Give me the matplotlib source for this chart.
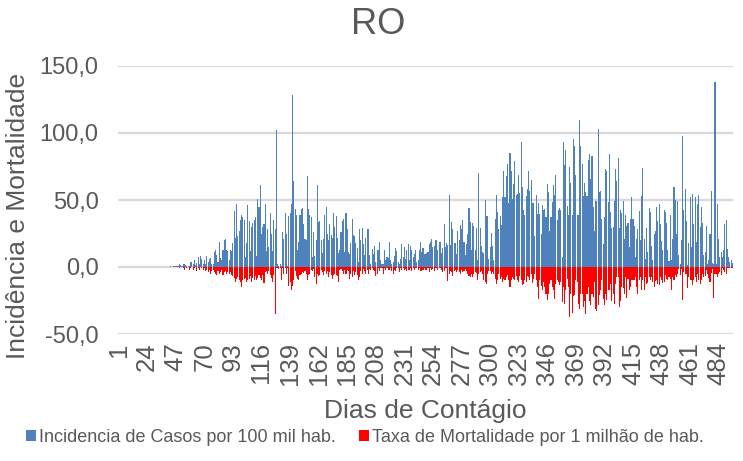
import matplotlib
matplotlib.use("Agg")
import matplotlib.pyplot as plt
from matplotlib.ticker import FuncFormatter
from matplotlib.patches import Patch
import numpy as np

plt.rcParams['font.family'] = ['Liberation Sans', 'DejaVu Sans']

# Incidência de casos por 100 mil hab. (dias 1..495)
incidencia = [
    0, 0, 0, 0, 0, 0, 0, 0, 0, 0,
    0, 0, 0, 0, 0, 0, 0, 0, 0, 0,
    0, 0, 0, 0, 0, 0, 0, 0, 0, 0,
    0, 0, 0, 0, 0, 0, 0, 0.3, 0, 0.2,
    0.3, 0.2, 0.4, 0.3, 0.5, 0.4, 0.8, 0.6, 1.0, 2.2,
    1.2, 0.8, 2.5, 2, 1.5, 1, 0.5, 1, 3.5, 4,
    2, 5, 1.5, 3, 7.5, 2, 8, 6, 2, 5,
    2, 8, 3.5, 6, 7, 2, 2, 11, 13, 8.7,
    4, 18.7, 6.5, 5.5, 12.4, 20, 21, 13, 12, 5,
    12.4, 12, 18, 42, 22, 47, 23, 27, 35, 38.5,
    37, 35, 7.5, 18, 46, 34, 12, 30, 33, 35,
    37, 8, 51, 45, 61, 25, 30, 32, 47, 12,
    28.6, 15, 40, 25, 12, 35, 28.6, 102, 2.5, 1,
    2.5, 1, 26, 21, 40.5, 25, 1, 38, 40, 47,
    128, 64, 43.5, 38.5, 12.4, 18.7, 38.5, 43, 44, 32,
    21, 20, 67.7, 43, 39, 37, 7.5, 26, 8, 20,
    61, 33.6, 34, 20, 10.5, 21, 38.5, 45, 25, 20,
    32, 24, 22, 40, 30, 38, 22, 10.5, 13, 26,
    34, 36, 11, 40.5, 28, 11, 10, 18, 36, 23.6,
    23, 18, 14, 4, 28, 20, 29, 17.4, 9, 22,
    28, 28.6, 9, 2.5, 13.7, 10, 15.4, 4, 13, 12.4,
    19, 5.5, 2, 2.5, 12.4, 5, 7.5, 6.7, 18.4, 5,
    2, 3.7, 8, 14.4, 11.7, 3.7, 2, 6, 17, 7.5,
    15, 6, 12.4, 17, 5, 15.4, 12.4, 7.5, 9.5, 12.4,
    3.7, 5, 13, 18.4, 11, 14.4, 9.5, 9.5, 10.5, 11,
    17, 19, 21, 15, 15.4, 20, 20, 12.4, 19, 18.4,
    10.7, 14.4, 32, 15, 18, 16.2, 54, 16.2, 33.6, 28.6,
    18, 18, 10, 27, 20, 31, 28, 35, 18.7, 8.7,
    17.4, 24.4, 44, 33.6, 13, 33, 30.6, 12.4, 29, 5,
    70, 29, 15.4, 11, 10.5, 50, 38, 38, 6, 15,
    25.6, 16, 5, 36, 53.5, 41, 28.6, 38, 31, 52,
    71.4, 52, 67.7, 76.6, 47.8, 85, 72, 51, 61.7, 79,
    54, 54.7, 69, 55, 93, 60, 42.8, 39, 53, 58,
    72, 57, 64.7, 47.8, 47.5, 23, 54, 39.8, 47.5, 39.8,
    25, 46.5, 42.3, 43, 37.3, 62, 56, 27, 37.3, 48.5,
    61, 53.7, 69, 35, 42.8, 44.3, 42.3, 7.5, 93, 76,
    87, 45.5, 39, 74.6, 63, 39, 95.8, 90, 68.4, 38.5,
    38.5, 109.5, 90, 76.6, 53, 63, 56, 53, 80, 84.6,
    66, 83, 45, 27, 49.3, 49.3, 103, 56, 57, 36,
    17.4, 37.3, 73.4, 72, 48.5, 84, 40.8, 29, 30, 49.3,
    73.4, 64, 81, 29, 42.3, 40.3, 49.3, 20.6, 38.5, 30.8,
    32.6, 15, 36, 52, 36, 30.6, 7.5, 20.6, 28.6, 41.8,
    20, 52.7, 74, 20.6, 6.2, 29, 11, 44, 41, 16,
    5, 25, 26.6, 44.8, 34, 47.3, 32, 19.4, 13, 42.3,
    41, 32.6, 12.4, 4.2, 38.5, 5, 20.6, 60, 49.8, 25,
    49, 9, 2.5, 20, 98, 42.3, 58, 34, 1.2, 17.7,
    52, 15, 54.7, 32, 52.2, 18.7, 46.8, 54, 30, 45,
    32.6, 8.7, 11, 30.3, 2, 5, 25, 56.5, 3, 2.5,
    138, 2, 47.3, 20.6, 7.5, 11, 7.5, 12.4, 32, 35,
    13.4, 7.5, 4, 5.5, 3,
]

# Taxa de mortalidade por 1 milhão de hab. (dias 1..495), plotted downward
mortalidade = [
    0, 0, 0, 0, 0, 0, 0, 0, 0, 0,
    0, 0, 0, 0, 0, 0, 0, 0, 0, 0,
    0, 0, 0, 0, 0, 0, 0, 0, 0, 0,
    0, 0, 0, 0, 0, 0, 0, 0, 0, 0,
    0, 0, 0, 0, 0, 0, 0, 0, 0, 0.5,
    0, 0, 1, 2, 0, 1, 0, 2, 1, 0,
    2, 1, 0, 3, 1, 2, 0, 1, 2, 1,
    3, 2, 4, 2, 5, 3, 2, 4, 5, 6,
    3, 5, 4, 2, 6, 4, 3, 5, 4, 5,
    4, 6, 7, 8, 11, 9, 7.5, 10, 11, 15,
    10, 9, 8, 11, 10, 9, 7, 11, 8, 9.5,
    7, 10, 8, 6, 8, 10, 6, 12, 4, 3,
    5, 3, 6, 8, 11, 6, 35, 1, 1, 1.5,
    0.5, 10, 1, 5, 1, 5, 0.5, 14, 11, 17.4,
    14, 10, 3, 7, 9, 10, 6, 5, 3.5, 4.5,
    3, 5, 10, 6, 5, 2, 3, 1.5, 7.5, 12.4,
    5, 7, 6, 2, 4, 6, 3, 5, 3, 7.5,
    4, 6, 9, 6, 5, 6, 7, 11, 2, 1.5,
    3, 5, 2.5, 5, 2, 3, 8.7, 5, 7.5, 3,
    6, 3.7, 6, 10, 7.5, 3, 5, 1.5, 3, 5,
    2, 5, 1.5, 2, 1, 2.5, 3, 7, 5, 0.5,
    3, 1, 0.5, 5, 1, 2, 0.5, 2, 2, 1,
    3, 5, 2, 3, 1, 0.5, 3.7, 1, 2, 0.5,
    2.5, 1.5, 3, 2, 2.5, 1, 3, 0.5, 2, 1,
    0.5, 2.5, 1, 3, 3, 2, 0.5, 2, 2.5, 1,
    3.5, 1, 2.5, 1.5, 3, 1, 0.5, 2, 1, 0.5,
    2.5, 4, 3, 1, 0.5, 10.5, 5, 3, 4, 6.7,
    3, 2.5, 3.5, 2, 4, 5, 2.5, 4, 3, 1.5,
    3, 5, 6.5, 7.5, 5, 7.5, 5, 3.7, 4.5, 10,
    5, 4, 3, 5, 10, 11, 12.4, 5, 3, 3,
    5.5, 4, 5, 9, 13, 10, 5, 8.7, 7.5, 11,
    8.7, 10, 7.5, 6, 10, 15, 10, 7.5, 8.7, 9.5,
    7, 10, 11, 7, 10, 13.7, 13, 10, 11, 7,
    7.5, 10, 5, 12, 8.7, 5, 10, 15, 23.6, 10,
    14, 17.4, 11, 15, 20, 24.4, 20, 13, 10, 15,
    17.4, 23.6, 13, 10, 11, 13.7, 11, 26, 15, 27.4,
    17.4, 8.7, 15, 37.3, 20, 34.3, 22, 21, 10, 11,
    27.4, 31, 20, 20, 30, 25, 34.8, 20, 15, 25,
    28, 20, 22.4, 11, 31, 33, 28.6, 21, 17.4, 10,
    23.6, 28.6, 20, 24.4, 17.4, 17, 12.4, 25, 20, 27.4,
    13, 7.5, 7.5, 30, 25, 15, 16, 20, 7.5, 23,
    8.7, 17.4, 15, 10, 10, 10, 7.5, 15, 20, 10,
    7.5, 17, 10, 17, 7.5, 13, 12, 7.5, 10, 7.5,
    11, 15, 10.5, 10, 13, 13.7, 7.5, 10, 12, 11,
    6, 9, 10, 7.5, 9, 17.4, 7.5, 10, 6, 7.5,
    5, 1.2, 6, 1.2, 24.4, 4, 5, 5, 16, 7.5,
    9.5, 10, 13.7, 9.5, 7.5, 11, 5, 10, 13, 10,
    5, 7.5, 7, 2.5, 5, 8.5, 11.5, 4.5, 1.5, 23,
    5, 5, 7.5, 5, 4, 6, 1, 2.5, 3.7, 5,
    1, 1, 0.5, 0.5, 0.5,
]

tick_labels = ["1", "24", "47", "70", "93", "116", "139", "162", "185", "208",
               "231", "254", "277", "300", "323", "346", "369", "392", "415",
               "438", "461", "484"]
y_ticks = [-50, 0, 50, 100, 150]

serie_azul = "Incidencia de Casos por 100 mil hab."
serie_verm = "Taxa de Mortalidade por 1 milhão de hab."
titulo = "RO"

TXT = "#595959"
BLUE = "#4F81BD"
RED = "#FF0000"
GRID = "#D9D9D9"

W, H = 743, 461
fig = plt.figure(figsize=(W / 100, H / 100), dpi=100)
ax = fig.add_axes([118 / W, 1 - 334 / H, (733 - 118) / W, (334 - 66) / H])

days = np.arange(1, len(incidencia) + 1)
ax.bar(days, incidencia, width=0.85, color=BLUE, linewidth=0, zorder=2)
ax.bar(days, -np.array(mortalidade), width=0.85, color=RED, linewidth=0, zorder=2)

ax.set_xlim(0.5, len(days) + 0.5)
ax.set_ylim(y_ticks[0], y_ticks[-1])
ax.set_yticks(y_ticks)
ax.yaxis.set_major_formatter(FuncFormatter(lambda v, p: f"{v:.1f}".replace(".", ",")))
ax.yaxis.grid(True, color=GRID, linewidth=1.6, zorder=0)
ax.set_axisbelow(True)
for s in ax.spines.values():
    s.set_visible(False)

ax.set_xticks([int(t) for t in tick_labels])
ax.set_xticklabels(tick_labels, rotation=90)
ax.tick_params(axis='both', length=0, colors=TXT, labelsize=17)
ax.tick_params(axis='x', labelsize=18.5, pad=6)
ax.tick_params(axis='y', pad=14)

fig.text(378 / W, 1 - 25 / H, titulo, ha='center', va='center', fontsize=26, color=TXT)
fig.text(18 / W, 1 - 216 / H, "Incidência e Mortalidade", rotation=90,
         ha='center', va='center', fontsize=19, color=TXT)
fig.text(425 / W, 1 - 411 / H, "Dias de Contágio", ha='center', va='center',
         fontsize=19, color=TXT)

handles = [Patch(facecolor=BLUE, edgecolor='none', label=serie_azul),
           Patch(facecolor=RED, edgecolor='none', label=serie_verm)]
fig.legend(handles=handles, loc='center', bbox_to_anchor=(365 / W, 1 - 437 / H),
           ncol=2, frameon=False, fontsize=13, labelcolor=TXT,
           handlelength=0.55, handleheight=0.55, handletextpad=0.15, columnspacing=1.3)

fig.savefig("out.png", dpi=100)
